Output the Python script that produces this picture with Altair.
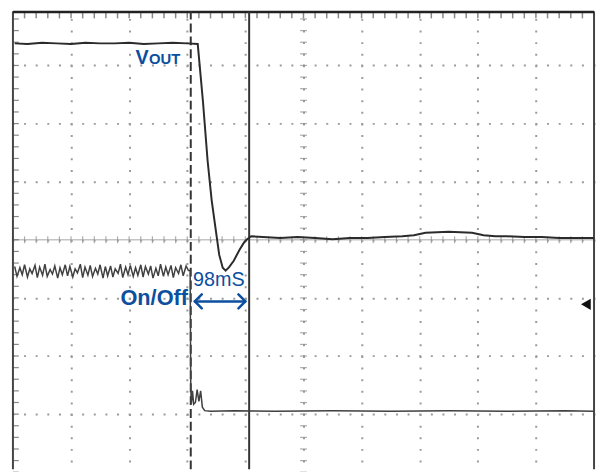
import altair as alt
import numpy as np
import pandas as pd

# ---------------- data (oscilloscope divisions: x 0..10, y 0..8) ----------------
# VOUT trace
vout_x = [0.03, 0.25, 0.50, 0.75, 1.00, 1.25, 1.50, 1.75, 2.00, 2.25, 2.50, 2.75, 3.00, 3.18,
          3.27, 3.35, 3.42, 3.49, 3.55, 3.61, 3.66, 3.72, 3.80, 3.90, 3.98, 4.03,
          4.10, 4.30, 4.60, 4.90, 5.20, 5.50, 5.80, 6.10, 6.40, 6.70, 6.90, 7.10, 7.30,
          7.50, 7.70, 7.90, 8.10, 8.30, 8.50, 8.80, 9.10, 9.40, 9.70, 10.0]
vout_y = [7.38, 7.37, 7.39, 7.38, 7.37, 7.39, 7.38, 7.38, 7.39, 7.37, 7.38, 7.39, 7.38, 7.37,
          6.38, 5.36, 4.68, 4.17, 3.74, 3.52, 3.47, 3.53, 3.64, 3.83, 3.96, 4.01,
          4.06, 4.05, 4.03, 4.05, 4.03, 4.01, 4.03, 4.03, 4.05, 4.06, 4.08, 4.12, 4.13,
          4.14, 4.13, 4.12, 4.08, 4.06, 4.06, 4.05, 4.05, 4.03, 4.03, 4.03]

# On/Off trace
onoff_x = [0.03, 0.07, 0.12, 0.16, 0.20, 0.25, 0.29, 0.33, 0.38, 0.42,
           0.46, 0.51, 0.55, 0.59, 0.64, 0.68, 0.72, 0.77, 0.81, 0.85,
           0.90, 0.94, 0.98, 1.03, 1.07, 1.11, 1.16, 1.20, 1.24, 1.29,
           1.33, 1.37, 1.42, 1.46, 1.50, 1.55, 1.59, 1.63, 1.68, 1.72,
           1.76, 1.81, 1.85, 1.89, 1.94, 1.98, 2.02, 2.07, 2.11, 2.15,
           2.20, 2.24, 2.28, 2.33, 2.37, 2.41, 2.46, 2.50, 2.54, 2.59,
           2.63, 2.67, 2.72, 2.76, 2.80, 2.85, 2.89, 2.93, 2.98, 3.02,
           3.05, 3.06, 3.07, 3.09, 3.11, 3.14, 3.17, 3.20, 3.23, 3.26,
           3.30, 3.40, 3.80, 4.50, 5.50, 6.50, 7.50, 8.50, 9.50, 10.0]
onoff_y = [3.54, 3.37, 3.52, 3.40, 3.57, 3.36, 3.50, 3.42, 3.56, 3.35,
           3.53, 3.39, 3.58, 3.37, 3.49, 3.41, 3.55, 3.34, 3.52, 3.40,
           3.57, 3.38, 3.54, 3.36, 3.50, 3.43, 3.58, 3.35, 3.53, 3.39,
           3.56, 3.37, 3.51, 3.41, 3.57, 3.34, 3.54, 3.38, 3.55, 3.36,
           3.50, 3.42, 3.58, 3.35, 3.53, 3.40, 3.56, 3.37, 3.52, 3.39,
           3.57, 3.36, 3.54, 3.41, 3.55, 3.34, 3.51, 3.38, 3.58, 3.37,
           3.53, 3.40, 3.56, 3.35, 3.52, 3.42, 3.57, 3.38, 3.55, 3.47,
           3.47, 1.45, 1.18, 1.40, 1.17, 1.20, 1.42, 1.22, 1.40, 1.12,
           1.06, 1.05, 1.06, 1.05, 1.06, 1.05, 1.06, 1.05, 1.06, 1.05]

# cursors
cursor_dashed_x = [3.06]
cursor_solid_x = [4.065]

# annotations
label_texts = ["V", "OUT", "On/Off", "98mS"]
label_x = [2.11, 2.34, 1.85, 3.10]
label_y = [7.02, 7.02, 2.88, 3.20]
label_size = [20, 15, 22, 20]
label_weight = ["bold", "bold", "bold", "normal"]

arrow_seg = ["shaft", "shaft", "left", "left", "left", "right", "right", "right"]
arrow_x = [3.13, 4.00, 3.25, 3.13, 3.25, 3.88, 4.00, 3.88]
arrow_y = [2.94, 2.94, 3.06, 2.94, 2.82, 3.06, 2.94, 2.82]

trigger_x = [9.86]
trigger_y = [2.89]

# graticule
major_x = [1, 2, 3, 4, 5, 6, 7, 8, 9]
major_y = [1, 2, 3, 4, 5, 6, 7]
minor_x = list(np.round(np.arange(0, 10.01, 0.2), 2))
minor_y = list(np.round(np.arange(0, 8.01, 0.2), 2))

# ---------------- layout ----------------
X_DOM = [-0.085, 10.051]
Y_DOM = [0.051, 7.942]
W, H = 596, 464
BLUE = "#0b4f9e"
TRACE = "#2b2b2b"
GRID = "#9a9a9a"
FONT = "Liberation Sans"

xsc = alt.Scale(domain=X_DOM, nice=False, zero=False)
ysc = alt.Scale(domain=Y_DOM, nice=False, zero=False)
X = alt.X("x:Q", scale=xsc,
          axis=alt.Axis(values=major_x, grid=True, gridDash=[2, 9.76], gridDashOffset=4,
                        gridColor=GRID, gridWidth=2, gridOpacity=1, labels=False,
                        ticks=False, domain=False, title=None))
Y = alt.Y("y:Q", scale=ysc,
          axis=alt.Axis(values=major_y, grid=True, gridDash=[2, 9.76], gridDashOffset=7.76,
                        gridColor=GRID, gridWidth=2, gridOpacity=1, labels=False,
                        ticks=False, domain=False, title=None))

layers = []

# center horizontal graticule line
layers.append(alt.Chart(pd.DataFrame({"x": [0], "x2": [10], "y": [4]}))
              .mark_rule(color="#c4c4c4", strokeWidth=1.5)
              .encode(x=X, x2="x2:Q", y=Y))

# graticule ticks
layers.append(alt.Chart(pd.DataFrame({"x": minor_x, "y": [4] * len(minor_x)}))
              .mark_tick(orient="vertical", size=7, thickness=1.2, color="#8a8a8a")
              .encode(x=X, y=Y))
layers.append(alt.Chart(pd.DataFrame({"x": [5] * len(minor_y), "y": minor_y}))
              .mark_tick(orient="horizontal", size=7, thickness=1.2, color="#8a8a8a")
              .encode(x=X, y=Y))
layers.append(alt.Chart(pd.DataFrame({"x": [0.05] * len(minor_y), "y": minor_y}))
              .mark_tick(orient="horizontal", size=6, thickness=1.2, color="#555")
              .encode(x=X, y=Y))
layers.append(alt.Chart(pd.DataFrame({"x": minor_x, "y": [7.87] * len(minor_x)}))
              .mark_tick(orient="vertical", size=7, thickness=1.5, color="#555")
              .encode(x=X, y=Y))

# frame
frame_v = pd.DataFrame({"x": [0, 10], "y": [Y_DOM[0], Y_DOM[0]], "y2": [7.93, 7.93]})
layers.append(alt.Chart(frame_v).mark_rule(color="#444", strokeWidth=2)
              .encode(x=X, y=Y, y2="y2:Q"))
layers.append(alt.Chart(pd.DataFrame({"x": [0], "x2": [10], "y": [7.92]}))
              .mark_rule(color="#222", strokeWidth=2.5)
              .encode(x=X, x2="x2:Q", y=Y))

# cursors
layers.append(alt.Chart(pd.DataFrame({"x": cursor_dashed_x, "y": [Y_DOM[0]], "y2": [7.93]}))
              .mark_rule(color="#333", strokeWidth=2, strokeDash=[9, 4])
              .encode(x=X, y=Y, y2="y2:Q"))
layers.append(alt.Chart(pd.DataFrame({"x": cursor_solid_x, "y": [Y_DOM[0]], "y2": [7.93]}))
              .mark_rule(color="#333", strokeWidth=2)
              .encode(x=X, y=Y, y2="y2:Q"))

# traces
vout_df = pd.DataFrame({"x": vout_x, "y": vout_y, "i": range(len(vout_x))})
onoff_df = pd.DataFrame({"x": onoff_x, "y": onoff_y, "i": range(len(onoff_x))})
layers.append(alt.Chart(vout_df).mark_line(color=TRACE, strokeWidth=2)
              .encode(x=X, y=Y, order="i:Q"))
layers.append(alt.Chart(onoff_df).mark_line(color="#404040", strokeWidth=1.5)
              .encode(x=X, y=Y, order="i:Q"))

# trigger marker
layers.append(alt.Chart(pd.DataFrame({"x": trigger_x, "y": trigger_y}))
              .mark_point(shape="triangle-left", filled=True, size=130, color="#111", opacity=1)
              .encode(x=X, y=Y))

# arrow
arrow_df = pd.DataFrame({"x": arrow_x, "y": arrow_y, "seg": arrow_seg,
                         "i": range(len(arrow_x))})
layers.append(alt.Chart(arrow_df)
              .mark_line(color=BLUE, strokeWidth=2.5, strokeCap="round", strokeJoin="round")
              .encode(x=X, y=Y, detail="seg:N", order="i:Q"))

# labels
for t, lx, ly, fs, fw in zip(label_texts, label_x, label_y, label_size, label_weight):
    layers.append(alt.Chart(pd.DataFrame({"x": [lx], "y": [ly], "t": [t]}))
                  .mark_text(align="left", baseline="alphabetic", font=FONT,
                             fontSize=fs, fontWeight=fw, color=BLUE)
                  .encode(x=X, y=Y, text="t:N"))

chart = (alt.layer(*layers)
         .properties(width=W, height=H, padding=0,
                     autosize=alt.AutoSizeParams(type="none"))
         .configure_view(stroke=None))

chart.save("out.html", embed_options={"renderer": "svg", "actions": False})
